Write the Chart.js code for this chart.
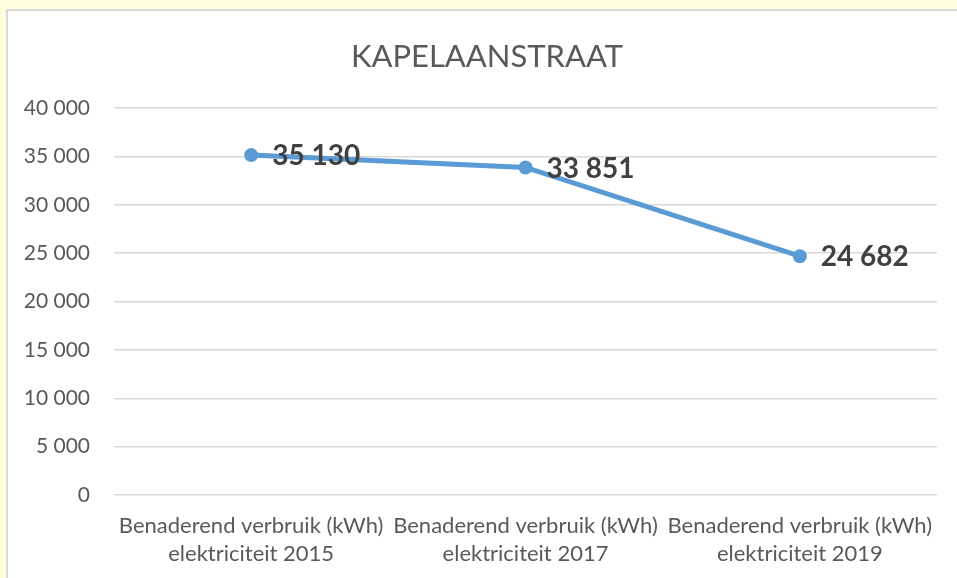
<!DOCTYPE html>
<html>
<head>
<meta charset="utf-8">
<script src="https://cdn.jsdelivr.net/npm/chart.js@4/dist/chart.umd.min.js"></script>
<style>
  html, body { margin: 0; padding: 0; background: #FFFFE0; overflow: hidden; }
  #box { position: absolute; left: 6px; top: 9px; width: 960px; height: 580px; background: #fff; border: 2px solid #D9D9D9; }
  #myChart { position: absolute; left: 0; top: 0; }
</style>
</head>
<body>
<div id="box"></div>
<canvas id="myChart" width="957" height="578"></canvas>
<script>
const chartTitle = 'KAPELAANSTRAAT';
const categories = [
    ['Benaderend verbruik (kWh)', 'elektriciteit 2015'],
    ['Benaderend verbruik (kWh)', 'elektriciteit 2017'],
    ['Benaderend verbruik (kWh)', 'elektriciteit 2019']
];
const verbruik = [35130, 33851, 24682];
const yTicks = [0, 5000, 10000, 15000, 20000, 25000, 30000, 35000, 40000];

const fontName = 'Lato, "Open Sans", sans-serif';

function fmt(v) {
    return String(v).replace(/\B(?=(\d{3})+(?!\d))/g, ' ');
}

// title centred over the whole box (not over the canvas), like the original
const boxTitle = {
    id: 'boxTitle',
    afterDraw(chart) {
        const ctx = chart.ctx;
        ctx.save();
        ctx.font = '31px ' + fontName;
        ctx.fillStyle = '#595959';
        ctx.textAlign = 'center';
        ctx.textBaseline = 'middle';
        ctx.fillText(chartTitle, 487, 57);
        ctx.restore();
    }
};

// data labels right of each point
const valueLabels = {
    id: 'valueLabels',
    afterDatasetsDraw(chart) {
        const ctx = chart.ctx;
        const meta = chart.getDatasetMeta(0);
        ctx.save();
        ctx.font = 'bold 28px ' + fontName;
        ctx.fillStyle = '#404040';
        ctx.textAlign = 'left';
        ctx.textBaseline = 'middle';
        meta.data.forEach((pt, i) => {
            ctx.fillText(fmt(verbruik[i]), pt.x + 21, pt.y + 1);
        });
        ctx.restore();
    }
};

const ctx = document.getElementById('myChart').getContext('2d');
const data = {
    labels: categories,
    datasets: [{
        label: 'Verbruik',
        data: verbruik,
        borderColor: '#5B9BD5',
        backgroundColor: '#5B9BD5',
        borderWidth: 5,
        pointRadius: 7,
        pointHoverRadius: 7,
        pointBorderWidth: 0,
        tension: 0
    }]
};
const config = {
    type: 'line',
    data: data,
    options: {
        responsive: false,
        animation: false,
        layout: { padding: { top: 108, right: 20, bottom: 0, left: 0 } },
        plugins: {
            legend: { display: false },
            tooltip: { enabled: false },
            title: { display: false }
        },
        scales: {
            x: {
                offset: true,
                grid: { display: false, drawTicks: false },
                border: { display: false },
                ticks: {
                    color: '#595959',
                    font: { family: fontName, size: 22, lineHeight: 1.27 },
                    maxRotation: 0,
                    minRotation: 0,
                    autoSkip: false,
                    padding: 17
                },
                afterFit(scale) { scale.height = 83; }
            },
            y: {
                min: 0,
                max: 40000,
                afterBuildTicks(scale) { scale.ticks = yTicks.map(v => ({ value: v })); },
                grid: { color: '#D9D9D9', lineWidth: 1.5, drawTicks: false },
                border: { display: false },
                ticks: {
                    color: '#595959',
                    font: { family: fontName, size: 21 },
                    padding: 24,
                    callback: v => fmt(v)
                },
                afterFit(scale) { scale.width = 114; }
            }
        }
    },
    plugins: [valueLabels, boxTitle]
};
const myChart = new Chart(ctx, config);
</script>
</body>
</html>
